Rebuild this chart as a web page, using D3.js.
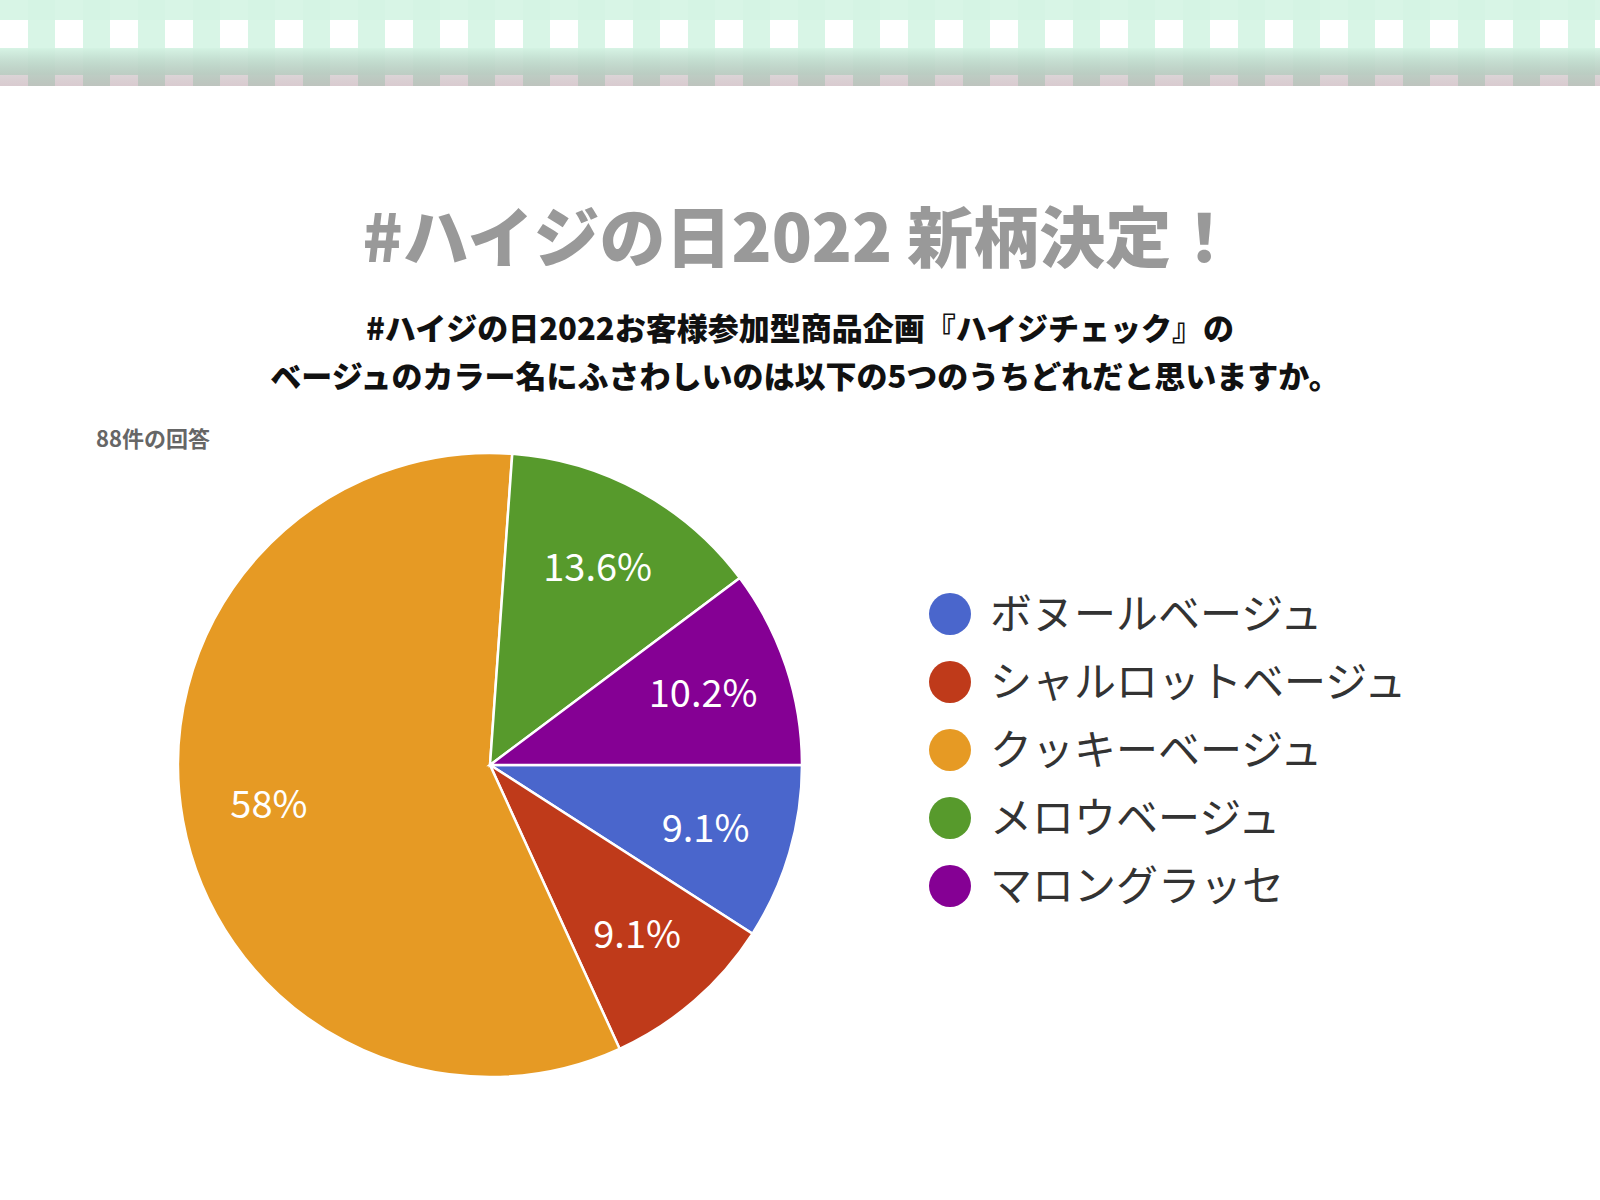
<!DOCTYPE html>
<html><head><meta charset="utf-8">
<script src="https://cdn.jsdelivr.net/npm/d3@7"></script>
<style>body{margin:0;background:#fff}svg{display:block}</style>
</head><body>
<svg id="c" width="1600" height="1200"></svg>
<script>
const labels = ["ボヌールベージュ", "シャルロットベージュ", "クッキーベージュ", "メロウベージュ", "マロングラッセ"]
const counts = [8, 8, 51, 12, 9]
const pctText = ["9.1%", "9.1%", "58%", "13.6%", "10.2%"]
const colors = ["#4a66cc", "#bf3a1a", "#e69a24", "#579a2c", "#850094"]

const svg = d3.select('#c')
const font = '"Noto Sans CJK JP", "Noto Sans", sans-serif'

// 上部のギンガム柄
const defs = svg.append('defs')
const pat = defs.append('pattern').attr('id', 'ging').attr('patternUnits', 'userSpaceOnUse')
  .attr('width', 55).attr('height', 55).attr('y', -7)
pat.append('rect').attr('width', 55).attr('height', 55).attr('fill', '#e6f8ef')
pat.append('rect').attr('x', 28).attr('width', 27).attr('height', 55).attr('fill', '#d4f4e3').attr('opacity', 0.8)
pat.append('rect').attr('width', 55).attr('height', 27).attr('fill', '#d4f4e3').attr('opacity', 0.8)
pat.append('rect').attr('x', 0).attr('y', 27).attr('width', 28).attr('height', 28).attr('fill', '#ffffff')
const grad = defs.append('linearGradient').attr('id', 'shade').attr('x1', 0).attr('x2', 0).attr('y1', 0).attr('y2', 1)
grad.append('stop').attr('offset', '0.55').attr('stop-color', '#000').attr('stop-opacity', 0)
grad.append('stop').attr('offset', '1').attr('stop-color', '#805060').attr('stop-opacity', 0.3)
svg.append('rect').attr('width', 1600).attr('height', 86).attr('fill', 'url(#ging)')
svg.append('rect').attr('width', 1600).attr('height', 86).attr('fill', 'url(#shade)')

// タイトル
svg.append('text').attr('x', 800).attr('y', 262).attr('text-anchor', 'middle')
  .attr('font-family', font).attr('font-weight', 900).attr('font-size', 66).attr('fill', '#999')
  .text('#ハイジの日2022 新柄決定！')
svg.append('text').attr('x', 800).attr('y', 340).attr('text-anchor', 'middle')
  .attr('font-family', font).attr('font-weight', 900).attr('font-size', 31).attr('fill', '#111')
  .text('#ハイジの日2022お客様参加型商品企画『ハイジチェック』の')
svg.append('text').attr('x', 805).attr('y', 388).attr('text-anchor', 'middle')
  .attr('font-family', font).attr('font-weight', 900).attr('font-size', 31).attr('fill', '#111')
  .text('ベージュのカラー名にふさわしいのは以下の5つのうちどれだと思いますか。')
svg.append('text').attr('x', 96).attr('y', 447)
  .attr('font-family', font).attr('font-weight', 700).attr('font-size', 22).attr('fill', '#666')
  .text('88件の回答')

// 円グラフ（3時の位置から時計回り）
const cx = 490, cy = 765, r = 312
const pie = d3.pie().sort(null).startAngle(Math.PI / 2).endAngle(Math.PI / 2 + 2 * Math.PI)
const arcs = pie(counts)
const arc = d3.arc().innerRadius(0).outerRadius(r)
const labelArc = d3.arc().innerRadius(r * 0.72).outerRadius(r * 0.72)
const g = svg.append('g').attr('transform', `translate(${cx},${cy})`)
g.selectAll('path').data(arcs).join('path')
  .attr('d', arc).attr('fill', (d, i) => colors[i]).attr('stroke', '#fff').attr('stroke-width', 2.5)
g.selectAll('text').data(arcs).join('text')
  .attr('transform', d => `translate(${labelArc.centroid(d)})`)
  .attr('text-anchor', 'middle').attr('dy', '0.35em')
  .attr('font-family', font).attr('font-size', 38).attr('fill', '#fff')
  .text((d, i) => pctText[i])

// 凡例
const ly = d3.scaleLinear().domain([0, 4]).range([614, 886])
const lg = svg.selectAll('.lg').data(labels).join('g').attr('class', 'lg')
  .attr('transform', (d, i) => `translate(950,${ly(i)})`)
lg.append('circle').attr('r', 21).attr('fill', (d, i) => colors[i])
lg.append('text').attr('x', 40).attr('dy', '0.36em')
  .attr('font-family', font).attr('font-size', 42).attr('fill', '#333')
  .text(d => d)
</script>
</body></html>
